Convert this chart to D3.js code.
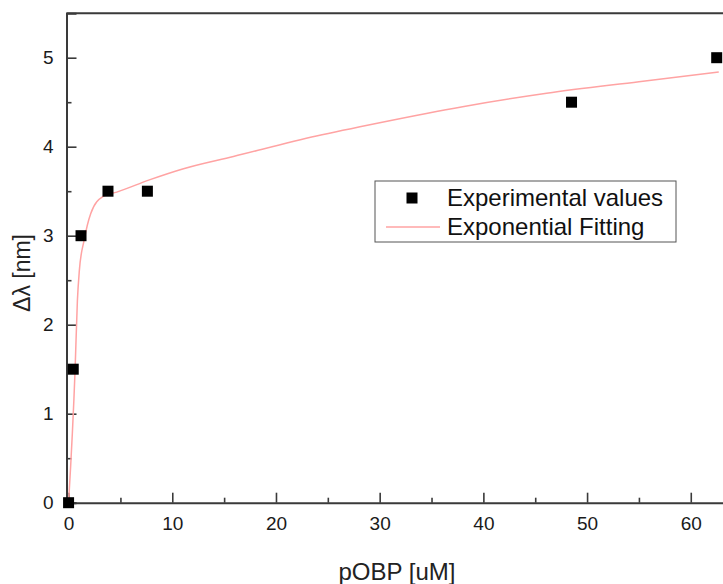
<!DOCTYPE html>
<html lang="en">
<head>
<meta charset="UTF-8">
<title>pOBP fit</title>
<style>
  body { margin: 0; background: #fff; }
  svg { display: block; font-family: "Liberation Sans", Arial, sans-serif; }
</style>
</head>
<body>
<svg id="chart"></svg>
<script src="https://cdn.jsdelivr.net/npm/d3@7/dist/d3.min.js"></script>
<script>
// experimental points (pOBP uM, shift nm)
const expX = [0, 0.45, 1.2, 3.8, 7.6, 48.5, 62.5];
const expY = [0, 1.5, 3.0, 3.5, 3.5, 4.5, 5.0];
// fitted curve
const fitX = [0, 0.63, 0.85, 1.04, 1.5, 2.14, 3.3, 4.65, 7.86, 11, 15.9, 23.9, 30, 38, 46.1, 55, 62.7];
const fitY = [0, 1.5, 2.27, 2.61, 2.95, 3.25, 3.44, 3.49, 3.63, 3.75, 3.89, 4.12, 4.27, 4.45, 4.6, 4.73, 4.84];
const xTicks = [0, 10, 20, 30, 40, 50, 60];
const yTicks = [0, 1, 2, 3, 4, 5];

const W = 723, H = 584;
const svg = d3.select("#chart").attr("width", W).attr("height", H);

const x = d3.scaleLinear().domain([-0.2, 65.5]).range([66.5, 66.5 + 65.7 * 10.37]);
const y = d3.scaleLinear().domain([0, 5.5]).range([502.7, 13.2]);

const axisCol = "#3a3a3a";

// frame (top + right, right is off-screen)
svg.append("path")
  .attr("d", `M${x.range()[0]},${y(5.5)}H${x.range()[1]}V${y(0)}`)
  .attr("fill", "none").attr("stroke", axisCol).attr("stroke-width", 2);

// x axis, ticks pointing in
const gx = svg.append("g").attr("transform", `translate(0,${y(0)})`);
gx.call(d3.axisBottom(x).tickValues(xTicks).tickSize(-10).tickPadding(14).tickFormat(d3.format("d")));
gx.append("g").call(d3.axisBottom(x).tickValues(d3.range(5, 65, 10)).tickSize(-5).tickFormat(""));
gx.selectAll(".domain").filter(function () { return this.parentNode !== gx.node(); }).remove();
gx.selectAll(".domain").attr("stroke", axisCol).attr("stroke-width", 2);
gx.selectAll(".tick line").attr("stroke", axisCol).attr("stroke-width", 1.6);
gx.selectAll(".tick text").attr("font-size", 19).attr("fill", "#1a1a1a").attr("font-family", "Liberation Sans, Arial");

// y axis
const gy = svg.append("g").attr("transform", `translate(${x(-0.2)},0)`);
gy.call(d3.axisLeft(y).tickValues(yTicks).tickSize(-10).tickPadding(13).tickFormat(d3.format("d")));
gy.append("g").call(d3.axisLeft(y).tickValues(d3.range(0.5, 5.5, 1)).tickSize(-5).tickFormat(""));
gy.selectAll(".domain").filter(function () { return this.parentNode !== gy.node(); }).remove();
gy.selectAll(".domain").attr("stroke", axisCol).attr("stroke-width", 2);
gy.selectAll(".tick line").attr("stroke", axisCol).attr("stroke-width", 1.6);
gy.selectAll(".tick text").attr("font-size", 19).attr("fill", "#1a1a1a").attr("font-family", "Liberation Sans, Arial");

// fit line
const fit = fitX.map((v, i) => [v, fitY[i]]);
svg.append("path")
  .datum(fit)
  .attr("fill", "none")
  .attr("stroke", "#ffa3a3")
  .attr("stroke-width", 1.5)
  .attr("d", d3.line().x(d => x(d[0])).y(d => y(d[1])).curve(d3.curveMonotoneX));

// experimental squares
const pts = expX.map((v, i) => [v, expY[i]]);
const sq = 11;
svg.append("g").selectAll("rect")
  .data(pts).enter().append("rect")
  .attr("x", d => x(d[0]) - sq / 2)
  .attr("y", d => y(d[1]) - sq / 2)
  .attr("width", sq).attr("height", sq)
  .attr("fill", "#000");

// legend
const lg = svg.append("g");
lg.append("rect").attr("x", 375).attr("y", 181).attr("width", 301).attr("height", 61)
  .attr("fill", "#fff").attr("stroke", "#555").attr("stroke-width", 1);
lg.append("rect").attr("x", 412 - sq / 2).attr("y", 198 - sq / 2).attr("width", sq).attr("height", sq).attr("fill", "#000");
lg.append("line").attr("x1", 386).attr("x2", 440).attr("y1", 227).attr("y2", 227)
  .attr("stroke", "#ffa3a3").attr("stroke-width", 1.5);
lg.append("text").attr("x", 447).attr("y", 206).attr("font-size", 24).attr("fill", "#111").text("Experimental values");
lg.append("text").attr("x", 447).attr("y", 235).attr("font-size", 24).attr("fill", "#111").text("Exponential Fitting");

// axis titles
svg.append("text").attr("x", 397).attr("y", 580).attr("text-anchor", "middle")
  .attr("font-size", 24).attr("fill", "#222").text("pOBP [uM]");
svg.append("text").attr("transform", "translate(30,273) rotate(-90)").attr("text-anchor", "middle")
  .attr("font-size", 23).attr("fill", "#222").text("Δλ [nm]");
</script>
</body>
</html>
